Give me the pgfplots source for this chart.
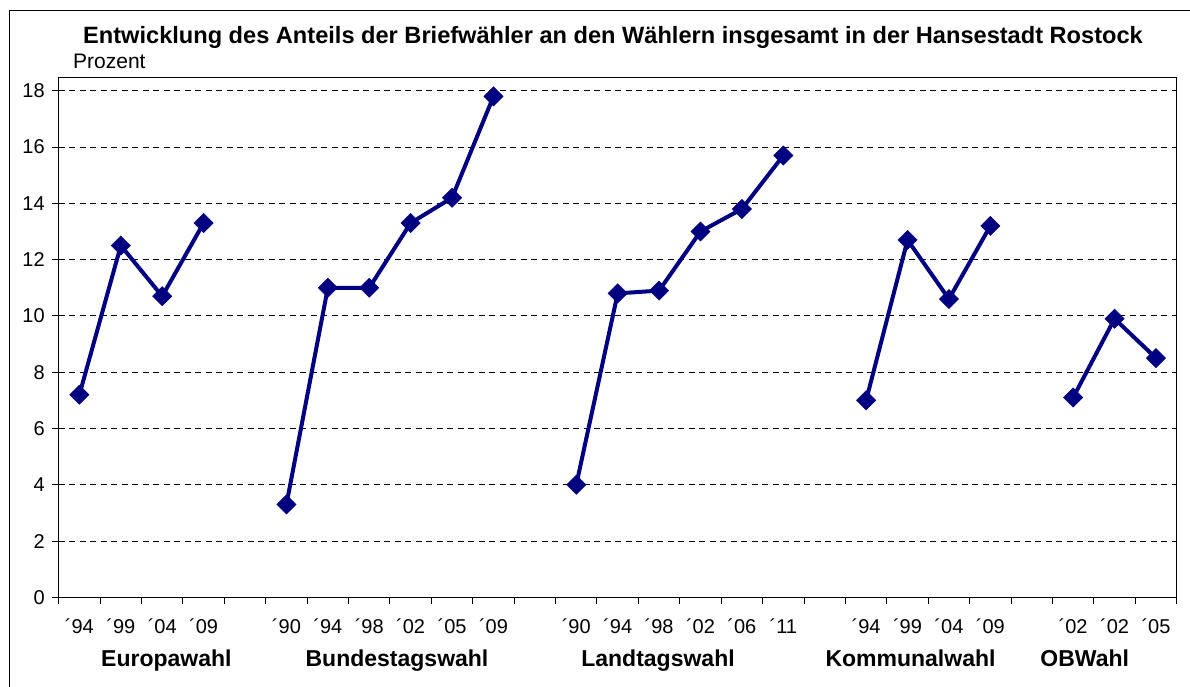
\documentclass[border=0pt]{standalone}
\usepackage{fontspec}
\setmainfont{Liberation Sans}
\usepackage{pgfplots}
\pgfplotsset{compat=1.18}
\definecolor{navyline}{HTML}{000080}
\begin{document}
\begin{tikzpicture}[x=1pt,y=1pt]
\useasboundingbox (0,0) rectangle (1190,686);
\draw[line width=1.5pt] (9.3,-5) -- (9.3,675.3) -- (1195,675.3);
\begin{axis}[
  at={(58.7pt,88.7pt)}, anchor=south west,
  width=1118pt, height=520pt, scale only axis,
  xmin=0, xmax=27, ymin=0, ymax=18.48,
  xtick={0,...,27}, x tick label as interval,
  xticklabels={´94,´99,´04,´09,{},´90,´94,´98,´02,´05,´09,{},´90,´94,´98,´02,´06,´11,{},´94,´99,´04,´09,{},´02,´02,´05},
  ytick={0,2,...,18},
  /pgf/number format/assume math mode=true,
  tick align=outside, tick pos=left, major tick length=6.5pt,
  tick style={black, line width=1pt},
  ymajorgrids, grid style={black, line width=1pt, dash pattern=on 6pt off 4.5pt},
  axis line style={line width=1pt},
  tick label style={font=\fontsize{20}{24}\selectfont},
  xticklabel style={anchor=base, yshift=-30pt},
  yticklabel style={xshift=-4pt},
  series/.style={navyline, line width=4pt, mark=square*, mark size=6.8pt,
     mark options={rotate=45, line width=0.5pt, fill=navyline, draw=navyline}},
  clip=false,
]
\addplot[series] coordinates {(0.5,7.2) (1.5,12.5) (2.5,10.7) (3.5,13.3)};
\addplot[series] coordinates {(5.5,3.3) (6.5,11.0) (7.5,11.0) (8.5,13.3) (9.5,14.2) (10.5,17.8)};
\addplot[series] coordinates {(12.5,4.0) (13.5,10.8) (14.5,10.9) (15.5,13.0) (16.5,13.8) (17.5,15.7)};
\addplot[series] coordinates {(19.5,7.0) (20.5,12.7) (21.5,10.6) (22.5,13.2)};
\addplot[series] coordinates {(24.5,7.1) (25.5,9.9) (26.5,8.5)};
\end{axis}
\node[anchor=base, font=\fontsize{23.6}{28}\selectfont\bfseries] at (613,642.7) {Entwicklung des Anteils der Briefwähler an den Wählern insgesamt in der Hansestadt Rostock};
\node[anchor=base west, inner sep=0pt, font=\fontsize{21}{25}\selectfont] at (73,617.7) {Prozent};
\begin{scope}[every node/.style={anchor=base, font=\fontsize{23}{27}\selectfont\bfseries}]
\node at (166.4,20) {Europawahl};
\node at (397,20) {Bundestagswahl};
\node at (658,20) {Landtagswahl};
\node at (910.5,20) {Kommunalwahl};
\node at (1084.7,20) {OBWahl};
\end{scope}
\end{tikzpicture}
\end{document}
